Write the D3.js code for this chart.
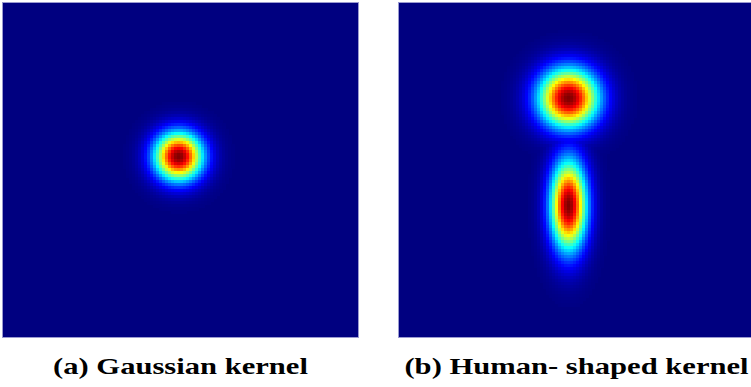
<!DOCTYPE html>
<html>
<head>
<meta charset="utf-8">
<script src="https://cdn.jsdelivr.net/npm/d3@7"></script>
<style>
  body { margin: 0; background: #fff; }
  svg { display: block; }
</style>
</head>
<body>
<div id="chart"></div>
<script>
// Kernel heatmaps: a round Gaussian and a two-part "human-shaped" one

////////////////////////////////////////////////////////////////////////////////
// Data (kernel centres and spreads in normalised panel units, 0..1)
const panelNames = ['gaussian', 'human'];
const panelLabels = ['(a) Gaussian kernel', '(b) Human- shaped kernel'];

// one row per gaussian component
const componentPanel = ['gaussian', 'human', 'human'];
const componentCx    = [0.496, 0.479, 0.479];
const componentCy    = [0.461, 0.286, 0.608];
const componentSx    = [0.047, 0.058, 0.035];
const componentSy    = [0.050, 0.061, 0.092];
const componentPeak  = [1.0, 1.0, 1.0];

// jet colour map stops
const jetStops  = [0, 0.125, 0.375, 0.625, 0.875, 1];
const jetColors = ['#000080', '#0000ff', '#00ffff', '#ffff00', '#ff0000', '#800000'];

const gridCols = 118;
const gridRows = 111;

////////////////////////////////////////////////////////////////////////////////
// Setup
const width = 751;
const height = 387;
const panelW = 355;
const panelH = 334;
const panelX = [3, 399];
const panelY = 3;
const captionStretch = 1.275; // the original figure is stretched sideways

const svg = d3.select('#chart').append('svg')
  .attr('width', width)
  .attr('height', height);

const colour = d3.scaleLinear()
  .domain(jetStops)
  .range(jetColors)
  .clamp(true);

const colScale = d3.scaleBand()
  .domain(d3.range(gridCols))
  .range([0, panelW]);
const rowScale = d3.scaleBand()
  .domain(d3.range(gridRows))
  .range([0, panelH]);

const components = componentPanel.map((p, i) => ({
  panel: p, cx: componentCx[i], cy: componentCy[i],
  sx: componentSx[i], sy: componentSy[i], peak: componentPeak[i],
}));

function kernelValue (panel, u, v) {
  let best = 0;
  components.filter(c => c.panel === panel).forEach(c => {
    const dx = (u - c.cx) / c.sx;
    const dy = (v - c.cy) / c.sy;
    best = Math.max(best, c.peak * Math.exp(-(dx * dx + dy * dy) / 2));
  });
  return best;
}

////////////////////////////////////////////////////////////////////////////////
// Draw panels
panelNames.forEach((name, pi) => {
  const cells = [];
  for (let r = 0; r < gridRows; r++) {
    for (let c = 0; c < gridCols; c++) {
      const u = (c + 0.5) / gridCols;
      const v = (r + 0.5) / gridRows;
      cells.push({ r, c, value: kernelValue(name, u, v) });
    }
  }

  const frame = svg.append('g')
    .attr('class', 'panel ' + name)
    .attr('transform', `translate(${panelX[pi]}, ${panelY})`);

  // background first so no seams show between cells
  frame.append('rect')
    .attr('width', panelW)
    .attr('height', panelH)
    .attr('fill', colour(0));

  frame.selectAll('.cell')
    .data(cells.filter(d => d.value > 0.004))
    .enter()
      .append('rect')
      .attr('class', 'cell')
      .attr('shape-rendering', 'crispEdges')
      .attr('x', d => Math.floor(colScale(d.c)))
      .attr('y', d => Math.floor(rowScale(d.r)))
      .attr('width', d => Math.ceil(colScale(d.c) + colScale.bandwidth()) - Math.floor(colScale(d.c)))
      .attr('height', d => Math.ceil(rowScale(d.r) + rowScale.bandwidth()) - Math.floor(rowScale(d.r)))
      .attr('fill', d => colour(d.value));

  frame.append('rect')
    .attr('x', -0.5)
    .attr('y', -0.5)
    .attr('width', panelW + 1)
    .attr('height', panelH + 1)
    .attr('fill', 'none')
    .attr('stroke', '#9a9ad0')
    .attr('stroke-width', 1);

  svg.append('text')
    .attr('transform', `translate(${panelX[pi] + panelW / 2}, 374) scale(${captionStretch}, 1)`)
    .attr('text-anchor', 'middle')
    .attr('font-family', "'Liberation Serif', 'Times New Roman', 'DejaVu Serif', serif")
    .attr('font-weight', 'bold')
    .attr('font-size', 24)
    .attr('fill', '#000')
    .text(panelLabels[pi]);
});
</script>
</body>
</html>
